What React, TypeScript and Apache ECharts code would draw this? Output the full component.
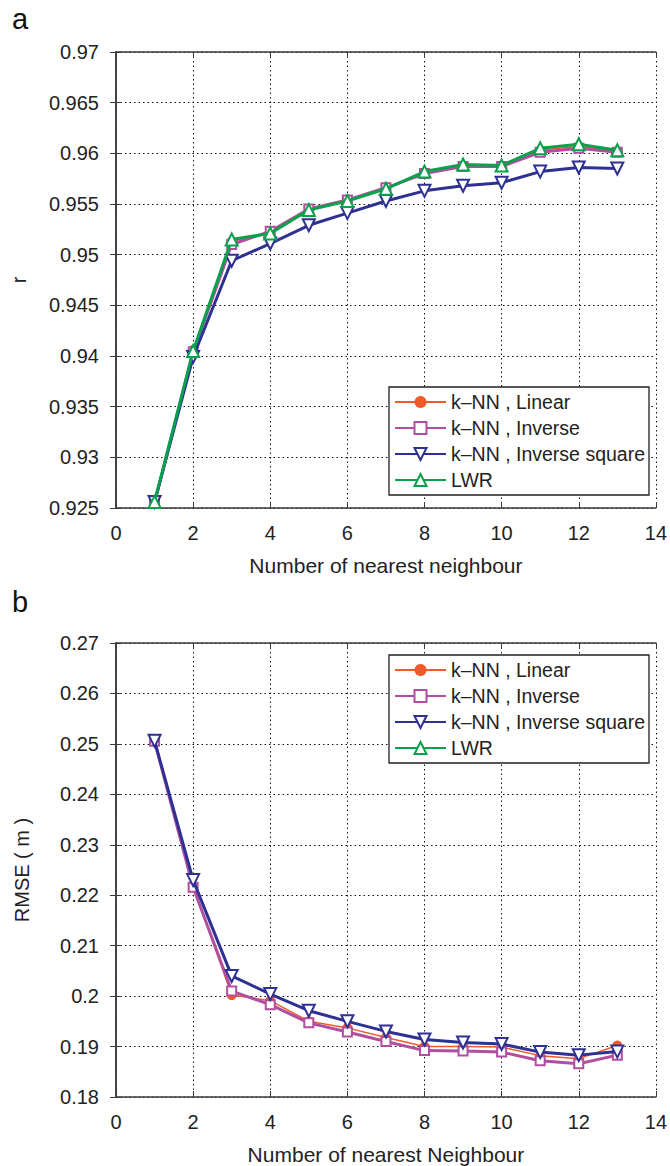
import React, { useEffect, useRef } from "react";
import * as echarts from "echarts";

// ---------- data ----------
const neighbours = [1, 2, 3, 4, 5, 6, 7, 8, 9, 10, 11, 12, 13];

const seriesNames = ["k–NN , Linear", "k–NN , Inverse", "k–NN , Inverse square", "LWR"];

// panel a: correlation r
const rLinear = [0.9256, 0.9406, 0.9513, 0.9522, 0.9545, 0.9554, 0.9566, 0.9581, 0.9588, 0.9587, 0.9603, 0.9607, 0.9602];
const rInverse = [0.9255, 0.9404, 0.951, 0.9523, 0.9545, 0.9554, 0.9566, 0.958, 0.9587, 0.9587, 0.9601, 0.9605, 0.9601];
const rInverseSquare = [0.9256, 0.9399, 0.9494, 0.9511, 0.9529, 0.9541, 0.9553, 0.9563, 0.9568, 0.9571, 0.9582, 0.9586, 0.9585];
const rLWR = [0.9256, 0.9405, 0.9515, 0.9521, 0.9544, 0.9553, 0.9565, 0.9582, 0.9589, 0.9588, 0.9605, 0.9609, 0.9603];

// panel b: RMSE (m)
const rmseLinear = [0.2505, 0.2218, 0.2002, 0.1991, 0.195, 0.1937, 0.1918, 0.19, 0.19, 0.1899, 0.1882, 0.1876, 0.1902];
const rmseInverse = [0.2505, 0.2216, 0.201, 0.1983, 0.1947, 0.1929, 0.191, 0.1892, 0.1891, 0.1889, 0.1872, 0.1866, 0.1883];
const rmseInverseSquare = [0.2506, 0.223, 0.204, 0.2004, 0.1971, 0.195, 0.193, 0.1914, 0.1908, 0.1905, 0.1889, 0.1883, 0.189];
const rmseLWR: number[] = [];

// axes
const xRange = { min: 0, max: 14, interval: 2 };
const rRange = { min: 0.925, max: 0.97, interval: 0.005 };
const rmseRange = { min: 0.18, max: 0.27, interval: 0.01 };

const FONT = '"Liberation Sans", Arial, Helvetica, sans-serif';
const COLORS = ["#F05A28", "#B24E9F", "#2E3192", "#0AA14C"];

const pairs = (ys: number[]) => ys.map((y, i) => [neighbours[i], y]);
const fmt = (v: number) => String(Number(v.toFixed(3)));

function buildOption() {
  const axisLine = { show: true, lineStyle: { color: "#3a3a3a", width: 1.5 } };
  const tick = { show: true, inside: true, length: 6, lineStyle: { color: "#3a3a3a", width: 1 } };
  const grid = { show: true, lineStyle: { color: "#111", width: 1, type: [1.5, 3] as any } };
  const label = { fontFamily: FONT, fontSize: 20, color: "#222" };

  const xMain = (gridIndex: number, name: string) => ({
    type: "value",
    gridIndex,
    position: "bottom",
    ...xRange,
    name,
    nameLocation: "middle",
    nameGap: 47,
    nameTextStyle: { fontFamily: FONT, fontSize: 21, color: "#222" },
    axisLine,
    axisTick: tick,
    splitLine: grid,
    axisLabel: { ...label, margin: 15, formatter: fmt },
  });
  const xTop = (gridIndex: number) => ({
    type: "value",
    gridIndex,
    position: "top",
    ...xRange,
    axisLine,
    axisTick: tick,
    splitLine: { show: false },
    axisLabel: { show: false },
  });
  const yMain = (gridIndex: number, range: any, name: string, gap: number) => ({
    type: "value",
    gridIndex,
    position: "left",
    ...range,
    name,
    nameLocation: "middle",
    nameGap: gap,
    nameTextStyle: { fontFamily: FONT, fontSize: 20, color: "#222" },
    axisLine,
    axisTick: tick,
    splitLine: grid,
    axisLabel: { ...label, margin: 17, formatter: fmt },
  });
  const yRight = (gridIndex: number, range: any) => ({
    type: "value",
    gridIndex,
    position: "right",
    ...range,
    axisLine,
    axisTick: tick,
    splitLine: { show: false },
    axisLabel: { show: false },
  });

  const styles = [
    { symbol: "circle", symbolSize: 10, lineWidth: 1.5, borderWidth: 0 },
    { symbol: "emptyRect", symbolSize: 9, lineWidth: 3, borderWidth: 2.5 },
    { symbol: "emptyTriangle", symbolSize: 12, lineWidth: 3, borderWidth: 2.5, rotate: 180 },
    { symbol: "emptyTriangle", symbolSize: 12, lineWidth: 3, borderWidth: 3 },
  ];

  const mk = (idx: number, ys: number[], axis: number) => ({
    type: "line",
    name: seriesNames[idx],
    xAxisIndex: axis,
    yAxisIndex: axis,
    data: pairs(ys),
    symbol: styles[idx].symbol,
    symbolSize: styles[idx].symbolSize,
    symbolRotate: styles[idx].rotate || 0,
    showAllSymbol: true,
    color: COLORS[idx],
    lineStyle: { color: COLORS[idx], width: styles[idx].lineWidth },
    itemStyle: { color: COLORS[idx], borderColor: COLORS[idx], borderWidth: styles[idx].borderWidth },
    emphasis: { disabled: true },
    z: 2 + idx,
  });

  const legend = (top: number) => ({
    data: seriesNames,
    orient: "vertical",
    left: 389,
    top,
    width: 252,
    selectedMode: false,
    backgroundColor: "#fff",
    borderColor: "#222",
    borderWidth: 1.3,
    borderRadius: 0,
    padding: [5, 4, 5, 5],
    itemWidth: 51,
    itemHeight: 15,
    itemGap: 6,
    textStyle: { fontFamily: FONT, fontSize: 19.5, color: "#222" },
  });

  return {
    animation: false,
    backgroundColor: "#fff",
    textStyle: { fontFamily: FONT },
    grid: [
      { left: 116, top: 52, width: 541, height: 456 },
      { left: 116, top: 643, width: 541, height: 456 },
    ],
    xAxis: [
      xMain(0, "Number of nearest neighbour"),
      xTop(0),
      xMain(1, "Number of nearest Neighbour"),
      xTop(1),
    ],
    yAxis: [
      yMain(0, rRange, "r", 87),
      yRight(0, rRange),
      yMain(1, rmseRange, "RMSE ( m )", 84),
      yRight(1, rmseRange),
    ],
    legend: [legend(387), legend(655)],
    series: [
      mk(0, rLinear, 0),
      mk(1, rInverse, 0),
      mk(2, rInverseSquare, 0),
      mk(3, rLWR, 0),
      mk(0, rmseLinear, 2),
      mk(1, rmseInverse, 2),
      mk(2, rmseInverseSquare, 2),
      mk(3, rmseLWR, 2),
    ],
    graphic: [
      { type: "text", left: 12, top: 4, style: { text: "a", fontFamily: FONT, fontSize: 29, fill: "#111" } },
      { type: "text", left: 12, top: 587, style: { text: "b", fontFamily: FONT, fontSize: 29, fill: "#111" } },
    ],
  };
}

export default function App() {
  const ref = useRef<HTMLDivElement>(null);
  useEffect(() => {
    if (!ref.current) return;
    const chart = echarts.init(ref.current, null, { renderer: "svg" });
    chart.setOption(buildOption() as any);
    return () => chart.dispose();
  }, []);
  return (
    <div
      ref={ref}
      style={{ position: "absolute", left: 0, top: 0, width: 670, height: 1166, background: "#fff" }}
    />
  );
}
